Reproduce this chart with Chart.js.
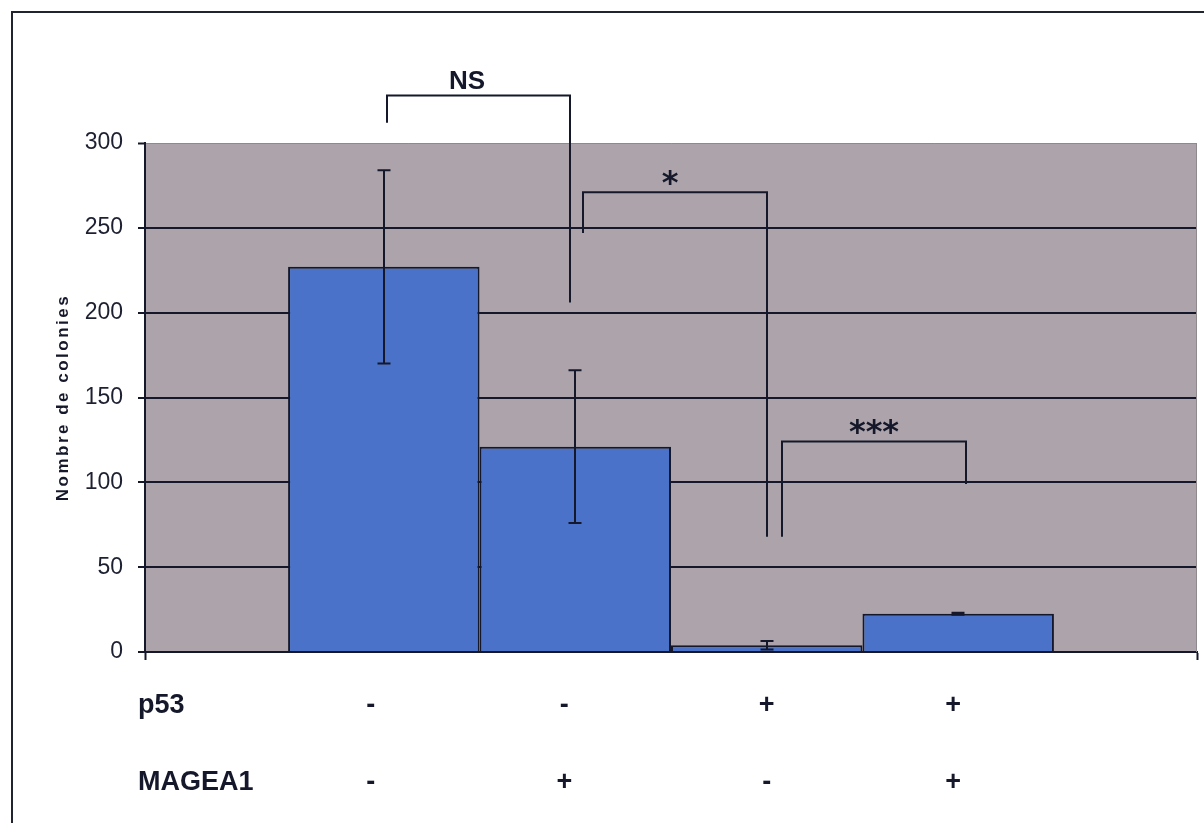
<!DOCTYPE html>
<html>
<head>
<meta charset="utf-8">
<script src="https://cdn.jsdelivr.net/npm/chart.js@4.4.1/dist/chart.umd.min.js"></script>
<style>
  html, body { margin: 0; padding: 0; background: #ffffff; }
  canvas { display: block; }
</style>
</head>
<body>
<canvas id="chart" width="1204" height="823"></canvas>
<script>
// Colony counts per transfection condition (mean ± error)
const p53 = ['-', '-', '+', '+'];
const magea1 = ['-', '+', '-', '+'];
const colonies = [227, 121, 4, 22.5];
const errors = [57, 45, 2.5, 0.6];
const rowLabels = ['p53', 'MAGEA1'];

// Significance brackets between conditions
const comparisons = [
  { from: 0, to: 1, label: 'NS',  top: 328, endFrom: 312, endTo: 206, shiftFrom: 0.016, shiftTo: -0.03, labelShift: -0.06 },
  { from: 1, to: 2, label: '*',   top: 271, endFrom: 247, endTo: 68,  shiftFrom: 0.04,  shiftTo: 0.003, labelShift: -0.025 },
  { from: 2, to: 3, label: '***', top: 124, endFrom: 68,  endTo: 99,  shiftFrom: 0.08,  shiftTo: 0.04,  labelShift: 0 }
];

const INK = '#15182a';
const BAR = '#4a72c8';
const PLOT_BG = '#aca4aa';
// small horizontal nudges of the +/- marks under each bar
const markNudge = [-13, -11, 0, -5];

const plotDecor = {
  id: 'plotDecor',
  beforeDraw(chart) {
    const { ctx, chartArea: a } = chart;
    ctx.save();
    ctx.fillStyle = '#ffffff';
    ctx.fillRect(0, 0, chart.width, chart.height);
    ctx.fillStyle = PLOT_BG;
    ctx.fillRect(a.left, a.top, a.right - a.left, a.bottom - a.top);
    // outer frame
    ctx.strokeStyle = '#202330';
    ctx.lineWidth = 2;
    ctx.strokeRect(12, 12, chart.width + 20, chart.height + 20);
    ctx.restore();
  },
  beforeDatasetsDraw(chart) {
    const { ctx, chartArea: a } = chart;
    ctx.save();
    ctx.strokeStyle = '#8f888c';
    ctx.lineWidth = 1;
    ctx.beginPath();
    ctx.moveTo(a.right - 0.5, a.top);
    ctx.lineTo(a.right - 0.5, a.bottom);
    ctx.stroke();
    ctx.restore();
  },
  afterDatasetsDraw(chart) {
    const { ctx } = chart;
    const y = chart.scales.y;
    const bars = colonies.map((_, i) => chart.getDatasetMeta(i).data[0]);

    ctx.save();
    ctx.strokeStyle = INK;
    ctx.lineWidth = 2;
    ctx.lineCap = 'butt';

    // error bars
    bars.forEach((bar, i) => {
      const yHi = y.getPixelForValue(colonies[i] + errors[i]);
      const yLo = y.getPixelForValue(Math.max(0, colonies[i] - errors[i]));
      const x = Math.round(bar.x);
      const cap = 6.5;
      ctx.beginPath();
      ctx.moveTo(x, yHi); ctx.lineTo(x, yLo);
      ctx.moveTo(x - cap, yHi); ctx.lineTo(x + cap, yHi);
      ctx.moveTo(x - cap, yLo); ctx.lineTo(x + cap, yLo);
      ctx.stroke();
    });

    // significance brackets
    comparisons.forEach(c => {
      const b1 = bars[c.from], b2 = bars[c.to];
      const x1 = Math.round(b1.x + c.shiftFrom * b1.width);
      const x2 = Math.round(b2.x + c.shiftTo * b2.width);
      const yt = y.getPixelForValue(c.top);
      ctx.beginPath();
      ctx.moveTo(x1, y.getPixelForValue(c.endFrom));
      ctx.lineTo(x1, yt);
      ctx.lineTo(x2, yt);
      ctx.lineTo(x2, y.getPixelForValue(c.endTo));
      ctx.stroke();

      const isStar = c.label.indexOf('*') === 0;
      ctx.font = isStar ? 'bold 32px "DejaVu Sans"' : 'bold 26px "Liberation Sans"';
      ctx.fillStyle = INK;
      ctx.textAlign = 'center';
      ctx.textBaseline = 'alphabetic';
      const m = ctx.measureText(c.label);
      const glyphMid = (m.actualBoundingBoxAscent - m.actualBoundingBoxDescent) / 2;
      const cx = (x1 + x2) / 2 + c.labelShift * b1.width;
      const cy = yt - 15;
      ctx.fillText(c.label, cx, cy + glyphMid);
    });
    ctx.restore();
  },
  afterDraw(chart) {
    const { ctx, chartArea: a } = chart;
    const bars = colonies.map((_, i) => chart.getDatasetMeta(i).data[0]);
    ctx.save();
    ctx.fillStyle = INK;
    ctx.textBaseline = 'alphabetic';

    // condition table under the axis
    const rows = [p53, magea1];
    const baselines = [a.bottom + 61, a.bottom + 138];
    ctx.font = 'bold 27px "Liberation Sans"';
    ctx.textAlign = 'left';
    rowLabels.forEach((t, r) => ctx.fillText(t, a.left - 7, baselines[r]));
    ctx.textAlign = 'center';
    rows.forEach((row, r) => {
      row.forEach((s, i) => ctx.fillText(s, bars[i].x + markNudge[i], baselines[r]));
    });

    // vertical axis title
    ctx.save();
    ctx.translate(63, (a.top + a.bottom) / 2);
    ctx.rotate(-Math.PI / 2);
    ctx.font = 'bold 17px "Liberation Sans"';
    if ('letterSpacing' in ctx) ctx.letterSpacing = '2.5px';
    ctx.textAlign = 'center';
    ctx.textBaseline = 'middle';
    ctx.fillText('Nombre de colonies', 0, 0);
    ctx.restore();

    ctx.restore();
  }
};

new Chart(document.getElementById('chart'), {
  type: 'bar',
  data: {
    labels: [''],
    datasets: colonies.map((v, i) => ({
      label: 'p53 ' + p53[i] + ' / MAGEA1 ' + magea1[i],
      data: [v],
      backgroundColor: BAR,
      borderColor: INK,
      borderWidth: 2,
      barPercentage: 1,
      categoryPercentage: 0.728
    }))
  },
  options: {
    responsive: false,
    animation: false,
    devicePixelRatio: 1,
    layout: { padding: { top: 143, right: 7, left: 0, bottom: 0 } },
    plugins: {
      legend: { display: false },
      tooltip: { enabled: false },
      title: { display: false }
    },
    scales: {
      x: {
        type: 'category',
        offset: true,
        grid: {
          offset: true,
          drawOnChartArea: false,
          drawTicks: true,
          tickLength: 8,
          tickColor: INK,
          tickWidth: 2
        },
        border: { color: INK, width: 2 },
        ticks: { display: false },
        afterFit(scale) { scale.height = 171; }
      },
      y: {
        min: 0,
        max: 300,
        ticks: {
          stepSize: 50,
          padding: 15,
          color: '#1d2030',
          font: { family: '"Liberation Sans"', size: 23 }
        },
        grid: {
          color: c => c.tick.value === 300 ? '#8f888c' : (c.tick.value === 0 ? 'rgba(0,0,0,0)' : INK),
          lineWidth: c => c.tick.value === 300 ? 1 : 2,
          tickColor: INK,
          tickLength: 7,
          tickWidth: 2
        },
        border: { color: INK, width: 2 },
        afterFit(scale) { scale.width = 145; }
      }
    }
  },
  plugins: [plotDecor]
});
</script>
</body>
</html>
